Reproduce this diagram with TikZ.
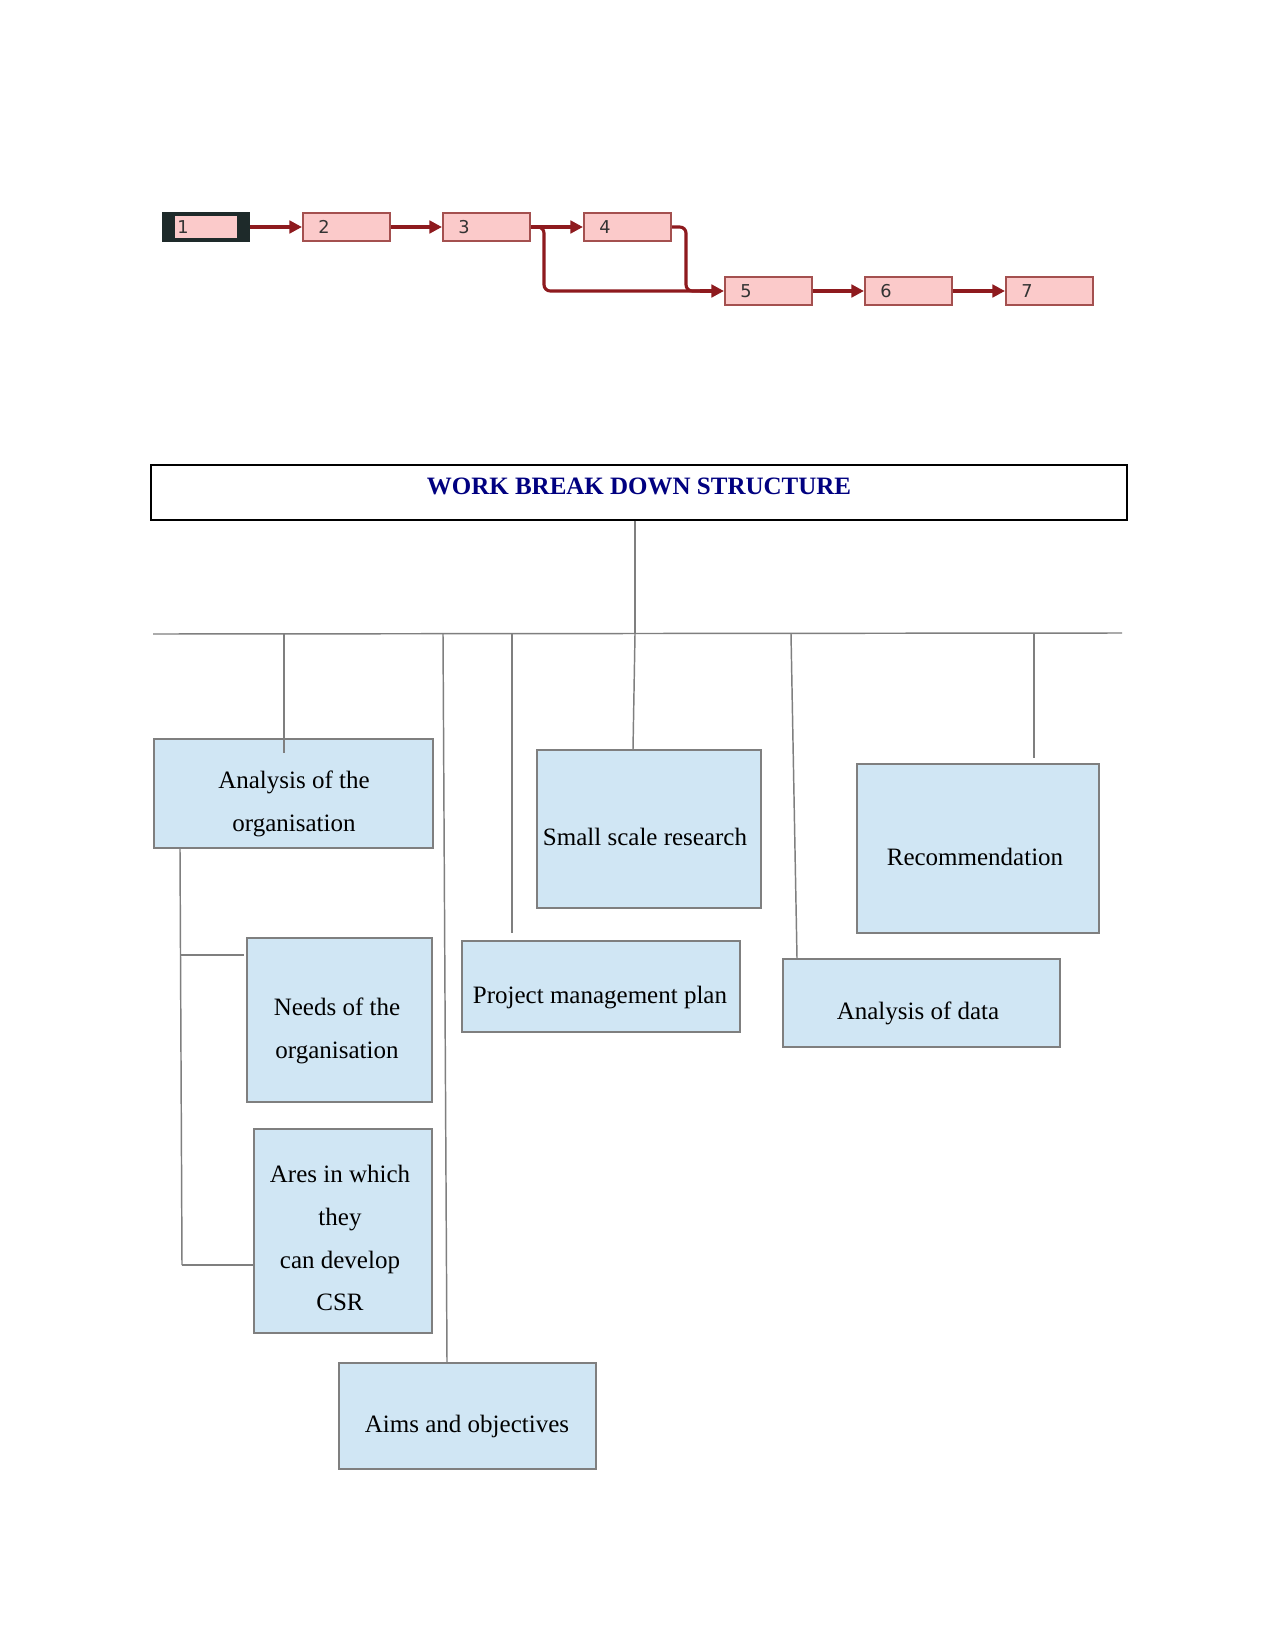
\documentclass[tikz,border=0pt]{standalone}
\usepackage{fontspec}
\setmainfont{Liberation Serif}
\newfontfamily\netfont{DejaVu Sans}
\usetikzlibrary{arrows.meta,fit,calc}
\definecolor{wbsfill}{HTML}{D0E6F4}
\definecolor{wbsline}{HTML}{7F7F7F}
\definecolor{netfill}{HTML}{FBCACA}
\definecolor{netborder}{HTML}{A4504F}
\definecolor{netarrow}{HTML}{8E1A1E}
\definecolor{netdark}{HTML}{1E2A2A}
\definecolor{titleblue}{HTML}{000080}
\begin{document}
\begin{tikzpicture}[x=0.48pt,y=-0.48pt,
  netbox/.style={draw=netborder, fill=netfill, line width=1pt, inner sep=0pt},
  netnum/.style={font=\netfont\fontsize{8.5}{9}\selectfont, text=black!80, anchor=west, inner sep=0pt},
  netline/.style={draw=netarrow, line width=1.5pt, -{Triangle[length=6pt,width=6pt]}},
  netpath/.style={draw=netarrow, line width=1.5pt, rounded corners=3pt},
  wbsbox/.style={draw=wbsline, fill=wbsfill, line width=0.7pt, inner sep=0pt},
  wbstext/.style={font=\fontsize{12}{20.6}\selectfont, align=center, inner sep=0pt},
  wbsconn/.style={draw=wbsline, line width=0.7pt}]
\useasboundingbox (0,0) rectangle (1275,1651);
\fill[white] (0,0) rectangle (1275,1651);

% ---------- network ----------
\node[draw=netdark, fill=netdark, line width=1pt, inner sep=0pt, fit={(163,213) (249,241)}] (n1) {};
\fill[netfill] (175,216) rectangle (237,238);
\node[netnum] (l1) at (177,227) {1};
\node[netbox, fit={(303,213) (390,241)}] (n2) {};
\node[netnum] (l2) at (318,227) {2};
\node[netbox, fit={(443,213) (530,241)}] (n3) {};
\node[netnum] (l3) at (458,227) {3};
\node[netbox, fit={(584,213) (671,241)}] (n4) {};
\node[netnum] (l4) at (599,227) {4};
\node[netbox, fit={(725,277) (812,305)}] (n5) {};
\node[netnum] (l5) at (740,291) {5};
\node[netbox, fit={(865,277) (952,305)}] (n6) {};
\node[netnum] (l6) at (880,291) {6};
\node[netbox, fit={(1006,277) (1093,305)}] (n7) {};
\node[netnum] (l7) at (1021,291) {7};

\coordinate (j3) at (544,227);
\coordinate (j3b) at (544,291);
\coordinate (j4) at (686,227);
\coordinate (j4b) at (686,291);
\coordinate (j5) at (700,291);

\draw[netline] (n1.east) -- (n2.west);
\draw[netline] (n2.east) -- (n3.west);
\draw[netline] (n3.east) -- (n4.west);
\draw[netpath] (n3.east) -- (j3) -- (j3b) -- (j5);
\draw[netpath] (n4.east) -- (j4) -- (j4b) -- (j5);
\draw[netline] (j5) -- (n5.west);
\draw[netline] (n5.east) -- (n6.west);
\draw[netline] (n6.east) -- (n7.west);

% ---------- WBS ----------
\node[draw=black, line width=0.7pt, inner sep=0pt, fit={(151,465) (1127,520)}] (title) {};
\node[font=\bfseries\fontsize{12}{14}\selectfont, text=titleblue, inner sep=0pt] (titletext) at (639,486) {WORK BREAK DOWN STRUCTURE};

\coordinate (busL) at (153,634);
\coordinate (busR) at (1122,633);
\coordinate (busC) at (635,634);
\draw[wbsconn] (busL) -- (busR);
\draw[wbsconn] (title.south -| busC) -- (busC);

\node[wbsbox, fit={(154,739) (433,848)}] (an) {};
\node[wbstext] (tan) at (294,804) {Analysis of the\\organisation};

\node[wbsbox, fit={(537,750) (761,908)}] (ss) {};
\node[wbstext] (tss) at (645,837) {Small scale research};

\node[wbsbox, fit={(857,764) (1099,933)}] (rc) {};
\node[wbstext] (trc) at (975,857) {Recommendation};

\node[wbsbox, fit={(247,938) (432,1102)}] (nd) {};
\node[wbstext] (tnd) at (337,1031) {Needs of the\\organisation};

\node[wbsbox, fit={(462,941) (740,1032)}] (pm) {};
\node[wbstext] (tpm) at (600,998) {Project management plan};

\node[wbsbox, fit={(783,959) (1060,1047)}] (ad) {};
\node[wbstext] (tad) at (918,1013) {Analysis of data};

\node[wbsbox, fit={(254,1129) (432,1333)}] (ar) {};
\node[wbstext] (tar) at (340,1238) {Ares in which\\they\\can develop\\CSR};

\node[wbsbox, fit={(339,1363) (596,1469)}] (ai) {};
\node[wbstext] (tai) at (467,1426) {Aims and objectives};

% drops from bus
\coordinate (d1) at (284,634);
\coordinate (d1e) at (284,753);
\coordinate (d2) at (443,634);
\coordinate (d3) at (512,634);
\coordinate (d3e) at (512,933);
\coordinate (d5) at (791,634);
\coordinate (d6) at (1034,634);
\coordinate (d6e) at (1034,758);
\draw[wbsconn] (d1) -- (d1e);
\draw[wbsconn] (d2) -- (ai.north -| 447,0);
\draw[wbsconn] (d3) -- (d3e);
\draw[wbsconn] (busC) -- (ss.north -| 633,0);
\draw[wbsconn] (d5) -- (ad.north -| 797,0);
\draw[wbsconn] (d6) -- (d6e);

% left bracket
\coordinate (lb1) at (181,955);
\coordinate (lb1e) at (244,955);
\coordinate (lb2) at (182,1265);
\draw[wbsconn] (an.south -| 180,0) -- (lb2);
\draw[wbsconn] (lb1) -- (lb1e);
\draw[wbsconn] (lb2) -- (ar.west |- 0,1265);
\end{tikzpicture}
\end{document}
